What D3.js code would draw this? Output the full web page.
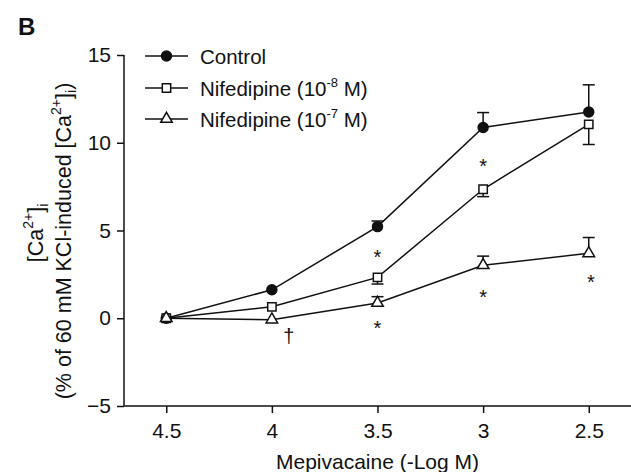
<!DOCTYPE html>
<html>
<head>
<meta charset="utf-8"/>
<title>Mepivacaine / nifedipine</title>
<script src="https://d3js.org/d3.v7.min.js"></script>
<style>
  body { margin: 0; background: #fff; }
  text { font-family: "Liberation Sans", Arial, sans-serif; fill: #111; }
</style>
</head>
<body>
<svg id="chart" width="631" height="472"></svg>
<script>
// concentrations (-log M)
var doses = [4.5, 4, 3.5, 3, 2.5];
var xTicks = [4.5, 4, 3.5, 3, 2.5];
var yTicks = [-5, 0, 5, 10, 15];

var control = [0, 1.62, 5.22, 10.87, 11.75];
var controlErr = [0, 0, 0.32, 0.85, 1.55];          // drawn upward
var nif8 = [0, 0.65, 2.33, 7.35, 11.05];
var nif8Err = [0, 0, 0.38, 0.42, 1.15];            // drawn downward
var nif7 = [0, -0.08, 0.87, 3.02, 3.7];
var nif7Err = [0, 0, 0.36, 0.52, 0.9];             // drawn upward

// significance marks: [x, y, symbol]
var marksX = [3.5, 3, 3.5, 3, 2.49, 3.92];
var marksY = [3.72, 8.9, -0.3, 1.46, 2.32, -1.03];
var marksS = ["*", "*", "*", "*", "*", "\u2020"];

var svg = d3.select("#chart"),
    margin = {top: 55, right: 0, bottom: 66, left: 124},
    width = +svg.attr("width") - margin.left - margin.right,
    height = +svg.attr("height") - margin.top - margin.bottom,
    g = svg.append("g").attr("transform", "translate(" + margin.left + "," + margin.top + ")");

var x = d3.scaleLinear().domain([4.7, 2.3]).range([0, width]);
var y = d3.scaleLinear().domain([-5, 15]).range([height, 0]);

// axes
var xAxis = g.append("g")
    .attr("transform", "translate(0," + height + ")")
    .call(d3.axisBottom(x).tickValues(xTicks).tickSize(7).tickPadding(10)
      .tickFormat(function(d) { return String(d); }));
var yAxis = g.append("g")
    .call(d3.axisLeft(y).tickValues(yTicks).tickSize(7).tickPadding(6)
      .tickFormat(function(d) { return d < 0 ? "\u2212" + Math.abs(d) : d; }));

[xAxis, yAxis].forEach(function(a) {
  a.selectAll("path, line").attr("stroke", "#111").attr("stroke-width", 1.5);
  a.select(".domain").attr("d", a === xAxis ? "M0,0H" + width : "M0,0V" + height);
  a.selectAll("text").attr("font-size", 21).attr("font-family", "Liberation Sans, Arial, sans-serif").attr("fill", "#111");
});

var series = [
  {name: "control", values: control, err: controlErr, dir: 1, shape: "circle"},
  {name: "nif8", values: nif8, err: nif8Err, dir: -1, shape: "square"},
  {name: "nif7", values: nif7, err: nif7Err, dir: 1, shape: "triangle"}
];

var line = d3.line()
    .x(function(d, i) { return x(doses[i]); })
    .y(function(d) { return y(d); });

var symbols = {
  circle: d3.symbol().type(d3.symbolCircle).size(78),
  square: d3.symbol().type(d3.symbolSquare).size(70),
  triangle: d3.symbol().type(d3.symbolTriangle).size(58)
};

series.forEach(function(s) {
  g.append("path")
      .datum(s.values)
      .attr("fill", "none")
      .attr("stroke", "#111")
      .attr("stroke-width", 1.5)
      .attr("d", line);
});

series.forEach(function(s) {
  var eb = g.append("g").attr("stroke", "#111").attr("stroke-width", 1.5);
  s.values.forEach(function(v, i) {
    if (!s.err[i]) return;
    var cx = x(doses[i]), y0 = y(v), y1 = y(v + s.dir * s.err[i]);
    eb.append("line").attr("x1", cx).attr("x2", cx).attr("y1", y0).attr("y2", y1);
    eb.append("line").attr("x1", cx - 6).attr("x2", cx + 6).attr("y1", y1).attr("y2", y1);
  });
});

series.forEach(function(s) {
  g.append("g").selectAll("path")
    .data(s.values)
    .enter().append("path")
      .attr("transform", function(d, i) { return "translate(" + x(doses[i]) + "," + y(d) + ")"; })
      .attr("d", symbols[s.shape])
      .attr("fill", s.shape === "circle" ? "#111" : "#fff")
      .attr("stroke", "#111")
      .attr("stroke-width", 1.5);
});

// significance marks
g.append("g").selectAll("text")
  .data(marksS)
  .enter().append("text")
    .attr("x", function(d, i) { return x(marksX[i]); })
    .attr("y", function(d, i) { return y(marksY[i]) + (d === "*" ? 11 : 7); })
    .attr("text-anchor", "middle")
    .attr("font-size", 20)
    .text(function(d) { return d; });

// legend
var legendNames = ["Control", "Nifedipine (10", "Nifedipine (10"];
var legendSup = ["", "-8", "-7"];
var legendShapes = ["circle", "square", "triangle"];
var legY = [56, 88, 119];

var leg = svg.append("g");
legendNames.forEach(function(n, i) {
  var row = leg.append("g").attr("transform", "translate(0," + legY[i] + ")");
  row.append("line").attr("x1", 145).attr("x2", 188).attr("y1", 0).attr("y2", 0)
     .attr("stroke", "#111").attr("stroke-width", 1.5);
  row.append("path").attr("transform", "translate(166.5,0)")
     .attr("d", symbols[legendShapes[i]])
     .attr("fill", legendShapes[i] === "circle" ? "#111" : "#fff")
     .attr("stroke", "#111").attr("stroke-width", 1.5);
  var t = row.append("text").attr("x", 200).attr("y", 7.5).attr("font-size", 20.5);
  t.append("tspan").text(n);
  if (legendSup[i]) {
    t.append("tspan").attr("font-size", 13).attr("dy", -9).text(legendSup[i]);
    t.append("tspan").attr("dy", 9).text(" M)");
  }
});

// panel letter
svg.append("text").attr("x", 18).attr("y", 35)
   .attr("font-size", 24).attr("font-weight", "bold").text("B");

// y title
var yl1 = svg.append("text")
    .attr("transform", "translate(43,233) rotate(-90)")
    .attr("text-anchor", "middle").attr("font-size", 21.5);
yl1.append("tspan").text("[Ca");
yl1.append("tspan").attr("font-size", 14).attr("dy", -10).text("2+");
yl1.append("tspan").attr("dy", 10).text("]");
yl1.append("tspan").attr("font-size", 14).attr("dy", 5).text("i");

var yl2 = svg.append("text")
    .attr("transform", "translate(71,241) rotate(-90)")
    .attr("text-anchor", "middle").attr("font-size", 21.5);
yl2.append("tspan").text("(% of 60 mM KCl-induced [Ca");
yl2.append("tspan").attr("font-size", 14).attr("dy", -10).text("2+");
yl2.append("tspan").attr("dy", 10).text("]");
yl2.append("tspan").attr("font-size", 14).attr("dy", 5).text("i");
yl2.append("tspan").attr("dy", -5).text(")");

// x title
svg.append("text")
    .attr("x", margin.left + width / 2).attr("y", 469)
    .attr("text-anchor", "middle").attr("font-size", 21)
    .text("Mepivacaine (-Log M)");
</script>
</body>
</html>
